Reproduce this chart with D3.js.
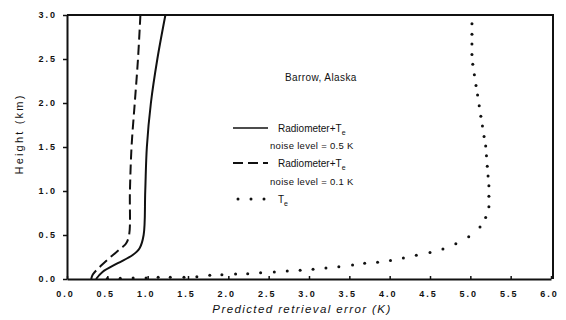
<!DOCTYPE html>
<html><head><meta charset="utf-8">
<script src="https://cdn.jsdelivr.net/npm/d3@7"></script>
<style>
body{margin:0;background:#fff;}
svg text{font-family:"Liberation Sans",Arial,sans-serif;fill:#111;}
</style></head>
<body><svg id="c" width="566" height="320"></svg>
<script>
// Data: [error (K), height (km)]
const xTicks = [0,0.5,1,1.5,2,2.5,3,3.5,4,4.5,5,5.5,6];
const yTicks = [0,0.5,1,1.5,2,2.5,3];
const radiometer05 = [[0.36,0],[0.44,0.08],[0.63,0.18],[0.81,0.27],[0.90,0.35],[0.95,0.5],[0.97,1.0],[0.99,1.5],[1.04,2.0],[1.12,2.5],[1.22,3.0]];
const radiometer01 = [[0.30,0],[0.32,0.05],[0.42,0.15],[0.54,0.25],[0.67,0.35],[0.73,0.4],[0.77,0.5],[0.78,1.0],[0.80,1.5],[0.84,2.0],[0.88,2.5],[0.91,3.0]];
const teOnly = [[0.50,0.005],[0.66,0.008],[0.82,0.011],[0.98,0.011],[1.13,0.019],[1.28,0.019],[1.45,0.019],[1.61,0.026],[1.77,0.042],[1.92,0.049],[2.09,0.057],[2.24,0.06],[2.40,0.07],[2.57,0.08],[2.73,0.09],[2.89,0.10],[3.05,0.11],[3.21,0.125],[3.37,0.14],[3.54,0.16],[3.69,0.18],[3.85,0.19],[4.01,0.21],[4.17,0.24],[4.33,0.27],[4.50,0.30],[4.66,0.34],[4.82,0.40],[4.98,0.48],[5.12,0.59],[5.19,0.70],[5.23,0.82],[5.23,0.94],[5.23,1.06],[5.22,1.17],[5.21,1.28],[5.20,1.40],[5.19,1.51],[5.17,1.62],[5.15,1.74],[5.13,1.85],[5.11,1.97],[5.09,2.09],[5.07,2.20],[5.05,2.32],[5.03,2.44],[5.02,2.55],[5.02,2.67],[5.02,2.78],[5.02,2.90]];
const title = "Barrow, Alaska";
const xLabel = "Predicted retrieval error (K)";
const yLabel = "Height (km)";

const svg = d3.select("#c");
const x = d3.scaleLinear().domain([0,6]).range([67,551]);
const y = d3.scaleLinear().domain([0,3]).range([279,15]);
const ink = "#111";

// frame
svg.append("path").attr("d",`M${x(0)},${y(3)}H${x(6)+2}V${y(0)}`).attr("fill","none").attr("stroke",ink).attr("stroke-width",2);

const fmt = d3.format(".1f");
const xa = svg.append("g").attr("transform",`translate(0,${y(0)})`)
  .call(d3.axisBottom(x).tickValues(xTicks).tickFormat(fmt).tickSize(3).tickSizeOuter(0));
const ya = svg.append("g").attr("transform",`translate(${x(0)},0)`)
  .call(d3.axisLeft(y).tickValues(yTicks).tickFormat(fmt).tickSize(4).tickSizeOuter(0));
[xa,ya].forEach(a=>{
  a.select(".domain").attr("stroke",ink).attr("stroke-width",2);
  a.selectAll(".tick line").attr("stroke",ink).attr("stroke-width",1.5);
  a.selectAll("text").attr("font-size",9).attr("font-weight","bold").attr("letter-spacing",2).attr("fill",ink).attr("font-family","Liberation Sans, Arial, sans-serif");
});
xa.selectAll(".tick line").attr("y1",-3).attr("y2",0);
xa.selectAll("text").attr("dy","0.35em").attr("y",15).attr("dx",-2);
ya.selectAll("text").attr("x",-10);

const line = d3.line().x(d=>x(d[0])).y(d=>y(d[1])).curve(d3.curveCatmullRom.alpha(0.5));
svg.append("path").datum(radiometer05).attr("d",line).attr("fill","none").attr("stroke",ink).attr("stroke-width",2);
svg.append("path").datum(radiometer01).attr("d",line).attr("fill","none").attr("stroke",ink).attr("stroke-width",2).attr("stroke-dasharray","10,5");
svg.append("g").selectAll("circle").data(teOnly).join("circle")
  .attr("cx",d=>x(d[0])).attr("cy",d=>y(d[1])).attr("r",1.5).attr("fill",ink);

// axis titles
svg.append("text").attr("x",302).attr("y",313).attr("text-anchor","middle").attr("font-size",11.5).attr("font-style","italic").attr("letter-spacing",1.4).text(xLabel);
svg.append("text").attr("transform","translate(23,134) rotate(-90)").attr("text-anchor","middle").attr("font-size",11).attr("letter-spacing",2.2).text(yLabel);

// annotation & legend
svg.append("text").attr("x",285).attr("y",81).attr("font-size",10).attr("letter-spacing",0.4).text(title);
const lg = svg.append("g");
const ls = [128,163];
lg.append("line").attr("x1",233).attr("x2",268).attr("y1",ls[0]).attr("y2",ls[0]).attr("stroke",ink).attr("stroke-width",1.5);
lg.append("line").attr("x1",233).attr("x2",268).attr("y1",ls[1]).attr("y2",ls[1]).attr("stroke",ink).attr("stroke-width",2).attr("stroke-dasharray","10,5");
lg.append("g").selectAll("circle").data([0,1,2]).join("circle").attr("cx",d=>238+d*13).attr("cy",199).attr("r",1.5).attr("fill",ink);
function teText(ty){
  const t = lg.append("text").attr("x",278).attr("y",ty+4).attr("font-size",10);
  t.append("tspan").text(ty===199?"T":"Radiometer+T");
  t.append("tspan").attr("font-size",7).attr("dy",3).text("e");
}
teText(128); teText(163); teText(199);
lg.append("text").attr("x",270).attr("y",149).attr("font-size",9.5).attr("letter-spacing",0.3).text("noise level = 0.5 K");
lg.append("text").attr("x",270).attr("y",185).attr("font-size",9.5).attr("letter-spacing",0.3).text("noise level = 0.1 K");
</script></body></html>
